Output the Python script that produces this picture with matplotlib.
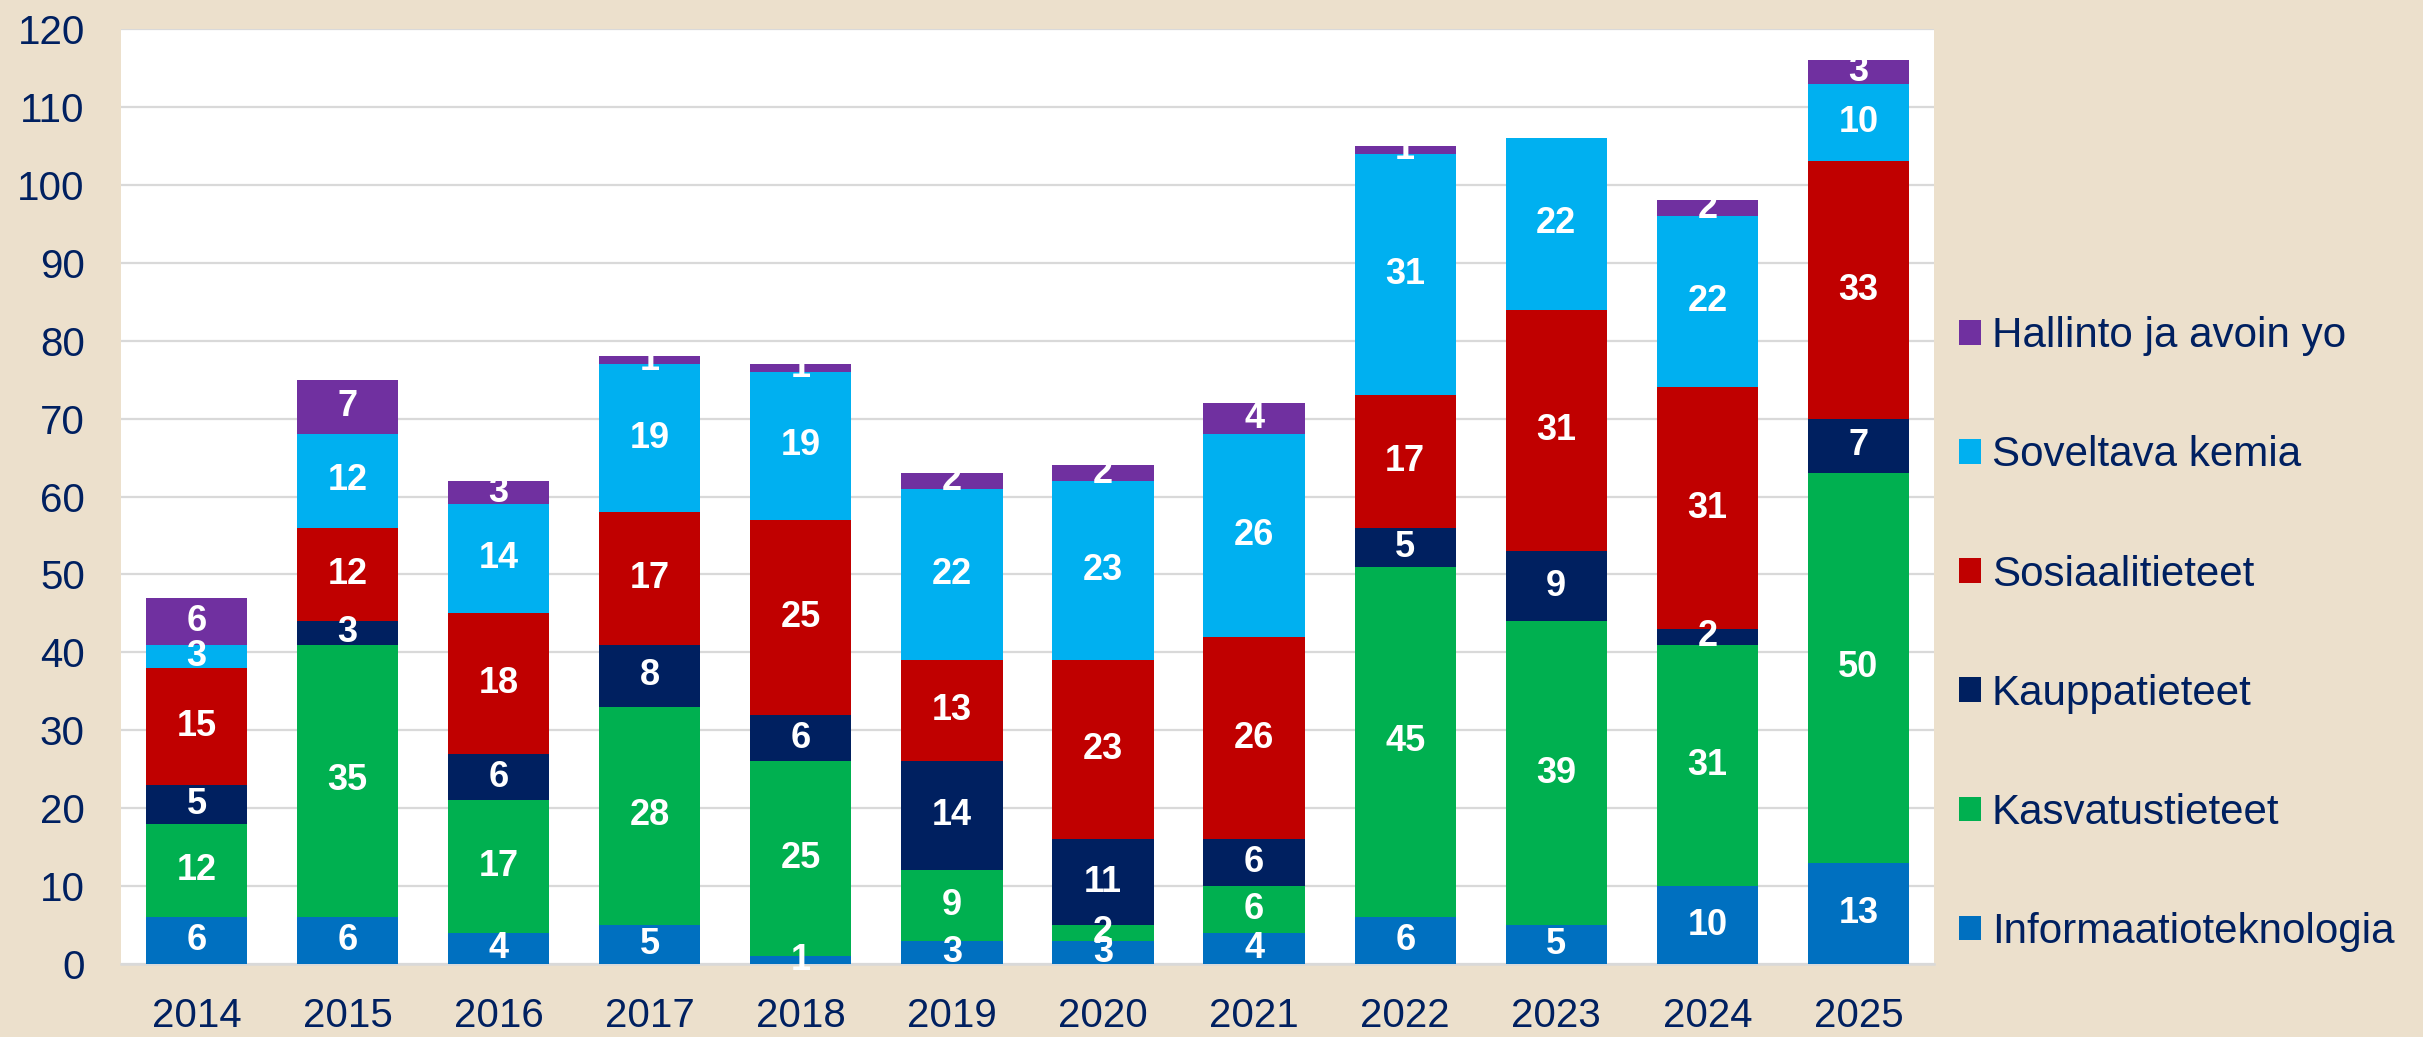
import matplotlib
matplotlib.use("Agg")
import matplotlib.pyplot as plt
import numpy as np

years = ["2014", "2015", "2016", "2017", "2018", "2019", "2020", "2021", "2022", "2023", "2024", "2025"]
series_names = ["Informaatioteknologia", "Kasvatustieteet", "Kauppatieteet",
                "Sosiaalitieteet", "Soveltava kemia", "Hallinto ja avoin yo"]
informaatioteknologia = [6, 6, 4, 5, 1, 3, 3, 4, 6, 5, 10, 13]
kasvatustieteet = [12, 35, 17, 28, 25, 9, 2, 6, 45, 39, 31, 50]
kauppatieteet = [5, 3, 6, 8, 6, 14, 11, 6, 5, 9, 2, 7]
sosiaalitieteet = [15, 12, 18, 17, 25, 13, 23, 26, 17, 31, 31, 33]
soveltava_kemia = [3, 12, 14, 19, 19, 22, 23, 26, 31, 22, 22, 10]
hallinto = [6, 7, 3, 1, 1, 2, 2, 4, 1, 0, 2, 3]
y_ticks = [0, 10, 20, 30, 40, 50, 60, 70, 80, 90, 100, 110, 120]

colors = ["#0070C0", "#00B050", "#002060", "#C00000", "#00B0F0", "#7030A0"]
series = [informaatioteknologia, kasvatustieteet, kauppatieteet,
          sosiaalitieteet, soveltava_kemia, hallinto]

plt.rcParams['font.family'] = ['Liberation Sans', 'DejaVu Sans']
navy = "#002060"
bg = "#ECE0CC"

fig = plt.figure(figsize=(24.23, 10.37), dpi=100, facecolor=bg)
ax = fig.add_axes([0.0499, 0.0704, 0.7483, 0.9016])
ax.set_facecolor("white")

x = np.arange(len(years))
bottom = np.zeros(len(years))
handles = []
for name, vals, c in zip(series_names, series, colors):
    vals = np.array(vals, dtype=float)
    bars = ax.bar(x, vals, 0.67, bottom=bottom, color=c, label=name, zorder=3)
    handles.append(bars)
    for xi, b, v in zip(x, bottom, vals):
        if v > 0:
            ax.text(xi, b + v / 2, f"{int(v)}", ha="center", va="center",
                    color="white", fontsize=26, fontweight="bold", zorder=4)
    bottom += vals

ax.set_xlim(-0.5, len(years) - 0.5)
ax.set_ylim(0, 120)
ax.set_yticks(y_ticks)
ax.set_xticks(x)
ax.set_xticklabels(years)
ax.tick_params(axis="both", length=0, labelsize=29, labelcolor=navy)
ax.tick_params(axis="y", pad=26)
ax.tick_params(axis="x", pad=24)
ax.grid(axis="y", color="#D9D9D9", linewidth=1.6, zorder=0)
for s in ["top", "right", "left"]:
    ax.spines[s].set_visible(False)
ax.spines["bottom"].set_color("#D9D9D9")
ax.spines["bottom"].set_linewidth(1.8)

leg = fig.legend(handles[::-1], series_names[::-1], loc="upper left",
                 bbox_to_anchor=(0.8085, 0.695), frameon=False, fontsize=30.3,
                 labelcolor=navy, handlelength=0.52, handleheight=0.52,
                 handletextpad=0.26, labelspacing=1.88, borderpad=0,
                 borderaxespad=0)

fig.savefig("out.png", dpi=100, facecolor=bg)
